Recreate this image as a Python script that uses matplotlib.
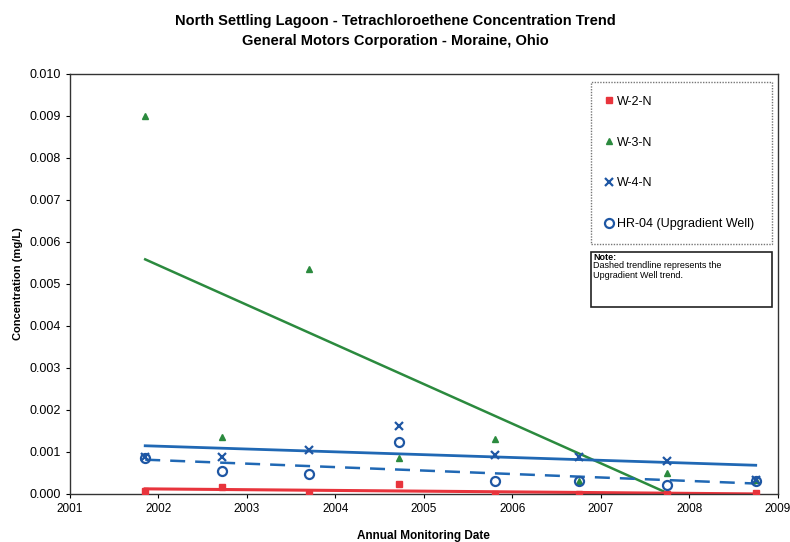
import numpy as np
import matplotlib.pyplot as plt
from matplotlib.patches import Rectangle

plt.rcParams['font.family'] = ['Liberation Sans', 'DejaVu Sans']

# sampling dates (decimal years) and concentrations (mg/L)
dates = [2001.85, 2002.72, 2003.70, 2004.72, 2005.80, 2006.75, 2007.75, 2008.75]
w2n = [0.00007, 0.00017, 0.0, 0.00024, 0.0, 0.0, 0.0, 0.00002]
w3n = [0.0090, 0.00136, 0.00535, 0.00086, 0.0013, 0.0003, 0.0005, 0.00033]
w4n = [0.00088, 0.00088, 0.00105, 0.00162, 0.00093, 0.00088, 0.00078, 0.00033]
hr04 = [0.00086, 0.00055, 0.00048, 0.00124, 0.00031, 0.00031, 0.00022, 0.00032]

RED = '#e8343c'
GREEN = '#2b8a3e'
BLUE = '#1f57a4'
LBLUE = '#2068b4'

fig = plt.figure(figsize=(7.9, 5.42), dpi=100)
ax = fig.add_axes([0.0886, 0.0886, 0.896, 0.775])

x = np.array(dates)


def trend(vals):
    k, b = np.polyfit(x, vals, 1)
    return k * x + b


# trendlines (Excel-style linear fits)
ax.plot(x, trend(w3n), color=GREEN, lw=1.8, zorder=2)
ax.plot(x, trend(w4n), color=LBLUE, lw=2.0, zorder=2)
ax.plot(x, trend(hr04), color=LBLUE, lw=1.8, ls=(0, (6, 4)), zorder=2)
ax.plot(x, trend(w2n), color=RED, lw=2.2, zorder=2)

ax.plot(dates, w2n, 's', color=RED, ms=4.5, ls='none', label='W-2-N', zorder=3)
ax.plot(dates, w3n, '^', color=GREEN, ms=5, ls='none', label='W-3-N', zorder=3)
ax.plot(dates, w4n, 'x', color=BLUE, ms=5.5, mew=1.6, ls='none', label='W-4-N', zorder=3)
ax.plot(dates, hr04, 'o', mfc='none', mec=BLUE, ms=6.5, mew=1.6, ls='none',
        label='HR-04 (Upgradient Well)', zorder=3)

ax.set_xlim(2001, 2009)
ax.set_ylim(0, 0.010)
ax.set_xticks(range(2001, 2010))
ax.set_yticks(np.arange(0, 0.0101, 0.001))
ax.yaxis.set_major_formatter(plt.FuncFormatter(lambda v, p: f'{v:.3f}'))
ax.tick_params(labelsize=9, length=3, direction='out', width=0.8)
ax.tick_params(axis='x', labelsize=8.5)
for s in ax.spines.values():
    s.set_linewidth(1.0)
    s.set_color('#333333')

ax.set_xlabel('Annual Monitoring Date', fontsize=8.5, fontweight='bold', labelpad=11)
ax.set_ylabel('Concentration (mg/L)', fontsize=8, fontweight='bold', labelpad=5)

fig.text(0.5, 0.962, 'North Settling Lagoon - Tetrachloroethene Concentration Trend',
         ha='center', va='center', fontsize=10.5, fontweight='bold')
fig.text(0.5, 0.925, 'General Motors Corporation - Moraine, Ohio',
         ha='center', va='center', fontsize=10.5, fontweight='bold')

leg = ax.legend(loc='upper left',
                bbox_to_anchor=(591 / 790, 1 - 82 / 542, 181 / 790, 0.0),
                bbox_transform=fig.transFigure, mode='expand',
                fontsize=9, labelspacing=2.3,
                handlelength=0.6, handletextpad=0.35, borderpad=1.1,
                borderaxespad=0, fancybox=False, framealpha=1,
                edgecolor='#777777')
leg.get_frame().set_linewidth(1.0)
leg.get_frame().set_linestyle((0, (1, 1)))

# note box
fig.patches.append(Rectangle((591 / 790, 1 - 307 / 542), 181 / 790, 55 / 542,
                             transform=fig.transFigure, fill=False,
                             edgecolor='#222222', lw=1.2))
fig.text(593 / 790, 1 - 257 / 542, 'Note:', fontsize=6.5, fontweight='bold',
         va='center', ha='left')
fig.text(593 / 790, 1 - 261 / 542, 'Dashed trendline represents the\nUpgradient Well trend.',
         fontsize=6.5, va='top', ha='left', linespacing=1.1)

fig.savefig('out.png', dpi=100)
